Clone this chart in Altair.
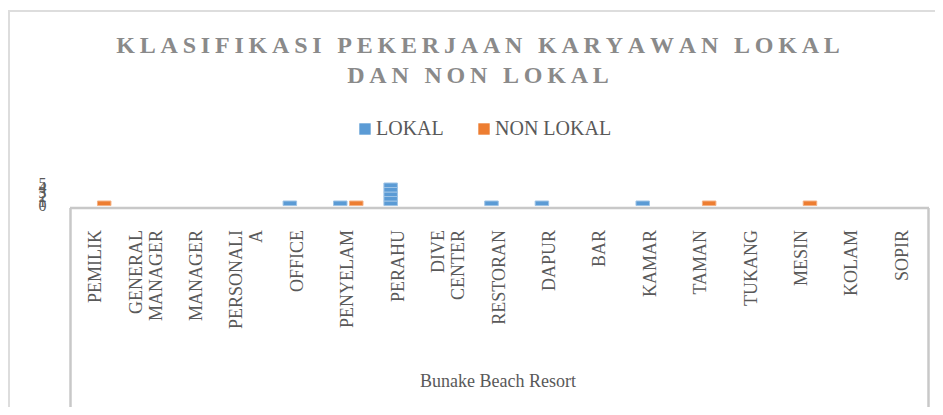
import altair as alt
import pandas as pd

# ---- data ----
categories = ["PEMILIK", "GENERAL MANAGER", "MANAGER", "PERSONALIA", "OFFICE",
              "PENYELAM", "PERAHU", "DIVE CENTER", "RESTORAN", "DAPUR", "BAR",
              "KAMAR", "TAMAN", "TUKANG", "MESIN", "KOLAM", "SOPIR"]
category_labels = ["PEMILIK", "GENERAL\nMANAGER", "MANAGER", "PERSONALI\nA", "OFFICE",
                   "PENYELAM", "PERAHU", "DIVE\nCENTER", "RESTORAN", "DAPUR", "BAR",
                   "KAMAR", "TAMAN", "TUKANG", "MESIN", "KOLAM", "SOPIR"]
lokal = [0, 0, 0, 0, 1, 1, 5, 0, 1, 1, 0, 1, 0, 0, 0, 0, 0]
non_lokal = [1, 0, 0, 0, 0, 1, 0, 0, 0, 0, 0, 0, 1, 0, 1, 0, 0]
series_names = ["LOKAL", "NON LOKAL"]
series_colors = ["#5B9BD5", "#ED7D31"]
series_stripes = ["#9DC3E6", "#F4B183"]
y_ticks = [0, 1, 2, 3, 4, 5]
title_lines = ["KLASIFIKASI PEKERJAAN KARYAWAN LOKAL", "DAN NON LOKAL"]
group_label = ["Bunake Beach Resort"]

# ---- tables built from the arrays (one row per unit so the texture stripes show) ----
rows = []
for name, vals in zip(series_names, [lokal, non_lokal]):
    for cat, v in zip(categories, vals):
        for k in range(v):
            rows.append({"cat": cat, "series": name, "k": k, "k1": k + 1})
bars_df = pd.DataFrame(rows)
labels_df = pd.DataFrame({"cat": categories, "label": category_labels})
labels_df["lines"] = labels_df["label"].str.count("\n") + 1
single_df = labels_df[labels_df["lines"] == 1]
double_df = labels_df[labels_df["lines"] == 2]
title_df = pd.DataFrame({"t": ["\n".join("\u2009".join(list(l)) for l in title_lines)]})
group_df = pd.DataFrame({"t": group_label})
one = pd.DataFrame({"a": [0]})

FONT = "Liberation Serif"
GRAY = "#595959"

x_scale = alt.Scale(domain=categories, range=[63, 920], paddingInner=0, paddingOuter=0)
y_scale = alt.Scale(domain=[0, 5], range=[197.5, 175], nice=False, zero=True)

bars = alt.Chart(bars_df).mark_bar(strokeWidth=1).encode(
    x=alt.X("cat:N", sort=categories, scale=x_scale, axis=None),
    xOffset=alt.XOffset("series:N", sort=series_names,
                        scale=alt.Scale(paddingInner=0.156, paddingOuter=0.653)),
    y=alt.Y("k:Q", scale=y_scale,
            axis=alt.Axis(values=y_ticks, title=None, domain=False, ticks=False, grid=False,
                          labelOverlap=False, labelFlush=False, labelBound=False,
                          offset=-38, labelPadding=0, labelFont=FONT, labelFontSize=16,
                          labelColor=GRAY)),
    y2="k1:Q",
    color=alt.Color("series:N", sort=series_names,
                    scale=alt.Scale(domain=series_names, range=series_colors),
                    title=None,
                    legend=alt.Legend(orient="none", legendX=347, legendY=111,
                                      direction="horizontal", symbolType="square",
                                      symbolSize=130, symbolStrokeWidth=0,
                                      labelFont=FONT, labelFontSize=20, labelColor=GRAY,
                                      labelOffset=1, columnPadding=30)),
    stroke=alt.Stroke("series:N", sort=series_names,
                      scale=alt.Scale(domain=series_names, range=series_stripes),
                      legend=None),
)

text_style = dict(angle=270, align="right", baseline="middle", lineBreak="\n",
                  font=FONT, fontSize=18, lineHeight=20, color=GRAY)

cat_text_1 = alt.Chart(single_df).mark_text(**text_style).encode(
    x=alt.X("cat:N", sort=categories, scale=x_scale, axis=None),
    y=alt.value(222),
    text="label:N",
)
cat_text_2 = alt.Chart(double_df).mark_text(dy=-10, **text_style).encode(
    x=alt.X("cat:N", sort=categories, scale=x_scale, axis=None),
    y=alt.value(222),
    text="label:N",
)

title = alt.Chart(title_df).mark_text(
    align="center", baseline="middle", lineBreak="\n",
    font=FONT, fontSize=24, fontWeight="bold", lineHeight=30, color="#8A8A8A",
).encode(x=alt.value(470), y=alt.value(38), text="t:N")

group_text = alt.Chart(group_df).mark_text(
    align="center", baseline="middle", font=FONT, fontSize=18, color=GRAY,
).encode(x=alt.value(490), y=alt.value(374), text="t:N")

BOX = "#C8C8C8"
box_top = alt.Chart(one).mark_rule(color=BOX, strokeWidth=2.5).encode(
    x=alt.value(62), x2=alt.value(921), y=alt.value(200))
box_left = alt.Chart(one).mark_rule(color=BOX, strokeWidth=2.5).encode(
    x=alt.value(62.5), y=alt.value(200), y2=alt.value(399))
box_right = alt.Chart(one).mark_rule(color=BOX, strokeWidth=2.5).encode(
    x=alt.value(920.5), y=alt.value(200), y2=alt.value(399))
BORDER = "#DDDDDD"
outer_top = alt.Chart(one).mark_rule(color=BORDER, strokeWidth=2).encode(
    x=alt.value(0), x2=alt.value(927), y=alt.value(3))
outer_left = alt.Chart(one).mark_rule(color=BORDER, strokeWidth=2).encode(
    x=alt.value(1), y=alt.value(3), y2=alt.value(399))

chart = alt.layer(
    outer_top, outer_left, box_top, box_left, box_right,
    bars, cat_text_1, cat_text_2, title, group_text,
).resolve_scale(color="independent", stroke="independent").properties(
    width=927, height=399,
    autosize=alt.AutoSizeParams(type="none"),
    padding=0,
    background="white",
).configure_view(strokeWidth=0)

chart.save("out.html", embed_options={"renderer": "svg", "actions": False})
